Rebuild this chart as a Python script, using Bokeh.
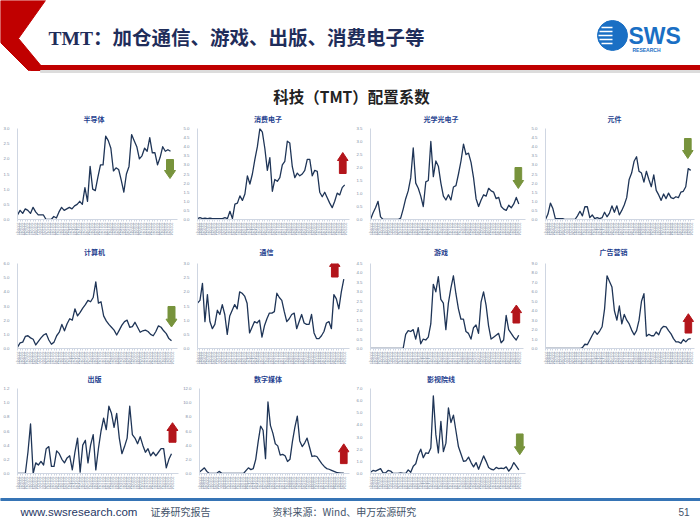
from bokeh.plotting import figure
from bokeh.layouts import column, row
from bokeh.models import Range1d, FixedTicker, Spacer, NumeralTickFormatter
from bokeh.core.properties import value
from bokeh.embed import file_html
from bokeh.resources import INLINE

# ---------------- data ----------------
quarters = [
    "2009Q1", "2009Q2", "2009Q3", "2009Q4", "2010Q1", "2010Q2", "2010Q3", "2010Q4",
    "2011Q1", "2011Q2", "2011Q3", "2011Q4", "2012Q1", "2012Q2", "2012Q3", "2012Q4",
    "2013Q1", "2013Q2", "2013Q3", "2013Q4", "2014Q1", "2014Q2", "2014Q3", "2014Q4",
    "2015Q1", "2015Q2", "2015Q3", "2015Q4", "2016Q1", "2016Q2", "2016Q3", "2016Q4",
    "2017Q1", "2017Q2", "2017Q3", "2017Q4", "2018Q1", "2018Q2", "2018Q3", "2018Q4",
    "2019Q1", "2019Q2", "2019Q3", "2019Q4", "2020Q1", "2020Q2", "2020Q3", "2020Q4",
    "2021Q1", "2021Q2", "2021Q3", "2021Q4", "2022Q1", "2022Q2", "2022Q3", "2022Q4",
    "2023Q1", "2023Q2", "2023Q3", "2023Q4",
]

semis = [0.15, 0.3, 0.2, 0.35, 0.3, 0.2, 0.4, 0.25, 0.15, 0.15,
         0.15, 0.0, 0.0, 0.0, 0.1, 0.05, 0.25, 0.4, 0.3, 0.35,
         0.4, 0.35, 0.45, 0.5, 0.6, 0.5, 1.05, 0.6, 1.75, 1.0,
         0.95, 1.4, 1.8, 1.8, 2.75, 2.6, 2.35, 1.6, 1.7, 1.65,
         1.3, 0.9, 1.5, 1.75, 2.8, 2.6, 2.4, 2.0, 2.1, 2.35,
         2.25, 2.7, 2.2, 2.2, 1.8, 2.05, 2.4, 2.25, 2.3, 2.25]

consumer = [0.05, 0.1, 0.05, 0.08, 0.05, 0.07, 0.05, 0.05, 0.05, 0.05,
            0.05, 0.1, 0.05, 0.45, 0.05, 0.85, 0.9, 1.3, 1.05, 1.4,
            2.4, 1.95, 2.5, 3.3, 4.0, 5.0, 4.8, 3.9, 2.7, 3.4,
            1.55, 2.2, 2.1, 2.3, 3.0, 3.2, 4.3, 4.2, 2.9, 2.3,
            2.55, 2.4, 2.5, 2.7, 3.3, 3.3, 2.4, 2.7, 2.65, 1.5,
            1.25, 1.5, 1.2, 0.9, 0.65, 1.0, 1.45, 1.35, 1.75, 1.9]

optical = [0.0, 0.25, 0.45, 0.7, 0.1, 0.0, 0.0, 0.0, 0.0, 0.0,
           0.0, 0.0, 0.05, 0.4, 0.8, 1.1, 1.6, 2.75, 1.4, 1.2,
           0.9, 0.5, 1.45, 1.5, 3.0, 1.65, 2.25, 2.05, 1.4, 0.9,
           0.75, 0.95, 0.75, 1.25, 1.3, 1.75, 2.25, 2.9, 2.5, 2.55,
           2.2, 1.6, 0.8, 0.5, 0.75, 0.95, 0.9, 1.2, 1.1, 1.05,
           0.8, 0.85, 0.5, 0.4, 0.35, 0.55, 0.45, 0.6, 0.85, 0.6]

components = [0.0, 0.3, 0.9, 0.6, 0.05, 0.05, 0.05, 0.05, 0.0, 0.0,
              0.0, 0.0, 0.0, 0.2, 0.45, 0.2, 0.7, 0.7, 0.1, 0.25,
              0.05, 0.1, 0.05, 0.1, 0.4, 0.15, 0.35, 0.75, 0.4, 0.75,
              0.25, 0.5, 0.8, 1.2, 2.2, 2.55, 3.2, 3.45, 2.65, 2.55,
              2.05, 2.65, 2.2, 1.8, 2.45, 1.6, 1.35, 1.05, 1.4, 1.15,
              1.45, 1.2, 1.15, 1.25, 1.2, 1.5, 1.55, 1.8, 2.8, 2.7]

computer = [0.1, 0.4, 0.45, 0.85, 0.9, 0.75, 0.65, 0.25, 0.5, 0.75,
            0.95, 1.05, 0.6, 0.3, 0.45, 0.9, 1.15, 1.7, 1.25, 1.75,
            2.1, 2.0, 2.8, 2.3, 2.55, 2.85, 3.1, 3.4, 3.3, 3.6,
            4.7, 3.2, 3.3, 2.3, 1.95, 1.7, 1.5, 1.3, 0.95, 1.3,
            1.65, 1.9, 2.0, 1.5, 1.55, 1.85, 1.5, 1.15, 1.25, 1.3,
            1.2, 1.0, 0.9, 1.2, 1.6, 1.5, 1.25, 1.05, 0.7, 0.55]

telecom = [1.6, 1.7, 2.3, 0.95, 1.9, 0.95, 0.7, 0.85, 1.35, 1.2,
           1.55, 1.2, 0.5, 1.15, 1.35, 1.55, 1.4, 2.0, 1.95, 1.85,
           1.6, 0.55, 0.75, 0.95, 0.9, 1.0, 0.4, 0.8, 1.05, 1.25,
           1.25, 1.3, 1.95, 1.8, 1.7, 1.3, 0.95, 1.05, 1.2, 1.25,
           0.7, 0.95, 1.2, 0.9, 0.85, 0.85, 1.2, 0.55, 0.35, 0.35,
           0.45, 0.6, 0.9, 0.95, 0.7, 1.9, 1.75, 1.4, 2.0, 2.45]

games = [0.0, 0.0, 0.0, 0.0, 0.0, 0.0, 0.0, 0.0, 0.0, 0.0,
         0.0, 0.0, 0.0, 0.0, 0.75, 0.95, 0.9, 1.0, 0.5, 1.1,
         0.25, 0.5, 0.45, 0.6, 1.3, 3.4, 3.0, 3.8, 2.6, 2.4,
         1.0, 2.4, 3.2, 3.85, 2.9, 2.1, 1.55, 1.55, 0.9, 0.8,
         0.5, 1.1, 1.25, 0.8, 2.45, 3.0, 2.3, 1.2, 0.5, 0.6,
         0.7, 0.8, 0.3, 0.45, 1.75, 1.0, 0.8, 0.6, 0.45, 0.7]

advertising = [0.0, 0.0, 0.0, 0.0, 0.0, 0.0, 0.0, 0.0, 0.0, 0.0,
               0.0, 0.0, 0.0, 0.0, 0.0, 0.1, 0.45, 0.4, 0.9, 1.4,
               1.85, 1.5, 1.85, 2.3, 4.2, 7.7, 7.1, 6.5, 4.0, 3.0,
               4.5, 2.6, 3.6, 3.0, 2.6, 1.95, 1.45, 1.9, 3.0, 5.0,
               5.8, 1.3, 1.5, 1.35, 1.35, 1.75, 1.45, 2.1, 2.35, 2.3,
               1.9, 1.55, 1.05, 0.7, 0.7, 0.55, 0.95, 0.7, 1.0, 1.05]

publishing = [0.0, 0.0, 0.0, 0.0, 0.3, 0.7, 0.0, 0.15, 0.12, 0.17,
              0.12, 0.35, 0.38, 0.1, 0.1, 0.32, 0.28, 0.2, 0.15, 0.22,
              0.25, 0.05, 0.3, 0.5, 0.02, 0.4, 0.47, 0.15, 0.4, 0.55,
              0.05, 0.35, 0.6, 0.78, 0.62, 0.95, 0.85, 0.65, 0.85, 0.5,
              0.28, 0.38, 0.5, 0.95, 0.55, 0.5, 0.42, 0.52, 0.4, 0.3,
              0.35, 0.25, 0.3, 0.25, 0.3, 0.35, 0.35, 0.08, 0.2, 0.28]

digital_media = [0.2, 0.5, 0.8, 0.3, 0.0, 0.0, 0.0, 0.0, 0.3, 0.05,
                 0.0, 0.0, 0.0, 0.0, 0.0, 0.0, 0.0, 0.0, 0.0, 0.4,
                 0.8, 0.55, 0.7, 2.0, 4.5, 6.7, 6.1, 2.1, 10.1, 6.8,
                 5.7, 4.2, 3.9, 2.6, 2.7, 2.5, 1.7, 2.0, 4.5, 6.5,
                 8.1, 4.6, 3.8, 4.3, 5.0, 3.7, 2.4, 2.5, 2.4, 1.9,
                 1.4, 1.0, 0.7, 0.6, 0.45, 0.3, 0.15, 0.1, 0.05, 0.05]

cinema = [0.1, 0.25, 0.2, 0.3, 0.4, 0.05, 0.05, 0.25, 0.2, 0.0,
          0.0, 0.0, 0.05, 0.0, 0.0, 0.3, 0.1, 0.6, 0.8, 1.55,
          2.0, 1.3, 1.7, 1.65, 2.1, 6.4, 3.2, 1.7, 4.3, 1.8,
          2.5, 5.4, 4.2, 4.8, 3.5, 2.2, 1.6, 1.0, 1.05, 1.35,
          0.9, 0.55, 0.9, 0.35, 0.9, 1.45, 1.0, 0.5, 0.35, 0.3,
          0.5, 0.4, 0.45, 0.4, 0.55, 0.2, 0.45, 0.9, 0.6, 0.3]

panel_titles = ["半导体", "消费电子", "光学光电子", "元件",
                "计算机", "通信", "游戏", "广告营销",
                "出版", "数字媒体", "影视院线"]
panel_series = [semis, consumer, optical, components,
                computer, telecom, games, advertising,
                publishing, digital_media, cinema]
y_max = [3.0, 5.0, 3.5, 5.0, 6.0, 3.0, 4.5, 9.0, 1.2, 12.0, 7.0]
y_step = [0.5, 0.5, 0.5, 0.5, 1.0, 0.5, 0.5, 1.0, 0.2, 2.0, 1.0]
signals = ["down", "up", "down", "down", "down", "up", "up", "up", "up", "up", "down"]

main_title = "TMT：加仓通信、游戏、出版、消费电子等"
sub_title = "科技（TMT）配置系数"
footer_site = "www.swsresearch.com"
footer_kind = "证券研究报告"
footer_source = "资料来源：Wind、申万宏源研究"
page_no = "51"

# ---------------- styles / geometry ----------------
CJK = "Noto Sans CJK SC"
LINE_C = "#1f3557"
AXIS_C = "#cfd6e2"
TICK_C = "#7d8ba3"
TITLE_C = "#1f3f8f"
GREEN = "#77933c"
RED = "#b3151b"

COL_X0 = [0, 180, 353, 528]
COL_W = [180, 173, 175, 172]
# title strip (top, height, title centre) and chart row (top, height), page px
STRIP = [(108, 16, 118), (240, 16, 251), (372, 13, 378.5)]
ROWS = [(124, 116), (256, 116), (385, 107)]
# frame left, last-data x, frame right, frame top, frame bottom (page px)
GEOM = [
    (17, 170, 177, 128, 219), (191, 344, 349, 128, 219), (363, 518, 525, 128, 219), (538, 690, 694, 128, 219),
    (17, 171, 177, 262, 349), (189, 343, 349, 263, 351), (363, 518, 523, 258, 348), (536, 690, 694, 261, 349),
    (17, 171, 178, 387, 474), (192, 343, 349, 388, 474), (363, 518, 525, 387, 473),
]
# arrow: centre x, top y, bottom y (page px)
ARROWS = [(169.5, 159, 178), (342, 152, 173), (517.5, 167, 188), (687, 138, 158),
          (171, 306, 327), (333.5, 258, 277), (515.5, 302, 321), (687.5, 313, 333),
          (172, 422, 442), (343, 444, 464), (519, 433, 454)]


def blank(w, h):
    f = figure(width=w, height=h, x_range=Range1d(0, w), y_range=Range1d(h, 0),
               x_axis_type=None, y_axis_type=None, output_backend="svg",
               toolbar_location=None, min_border=0)
    f.outline_line_color = None
    f.background_fill_color = "white"
    f.border_fill_color = "white"
    return f


def make_panel(k):
    r, c = divmod(k, 4)
    fx0, fw = COL_X0[c], COL_W[c]
    fy0, fh = ROWS[r]
    L, D, R, T, B = GEOM[k]
    vals = panel_series[k]
    n = len(vals)
    ymax = y_max[k]
    ppx = (D - L) / (n - 1)
    ppy = (B - T) / ymax
    p = figure(width=fw, height=fh, output_backend="svg", toolbar_location=None,
               x_range=Range1d(0, (R - L) / ppx), y_range=Range1d(0, ymax),
               min_border_left=L - fx0, min_border_right=fx0 + fw - R,
               min_border_top=T - fy0, min_border_bottom=fy0 + fh - B)
    p.outline_line_color = None
    p.grid.visible = False
    p.background_fill_color = "white"
    p.border_fill_color = "white"

    idx = list(range(n))
    p.line(idx, vals, line_color=LINE_C, line_width=1.3, line_join="round")

    xa = p.xaxis[0]
    xa.ticker = FixedTicker(ticks=idx)
    xa.major_label_overrides = {i: quarters[i] for i in idx}
    xa.major_label_orientation = "vertical"
    xa.axis_line_color = AXIS_C
    xa.major_tick_line_color = AXIS_C
    xa.major_tick_in = 0
    xa.major_tick_out = 2
    xa.minor_tick_line_color = None
    xa.major_label_text_font_size = "3.6px"
    xa.major_label_text_color = TICK_C
    xa.major_label_text_font = "Liberation Sans"
    xa.major_label_standoff = 1

    ya = p.yaxis[0]
    nt = int(round(ymax / y_step[k]))
    ya.ticker = FixedTicker(ticks=[round(j * y_step[k], 4) for j in range(nt + 1)])
    ya.formatter = NumeralTickFormatter(format="0.0")
    ya.axis_line_color = AXIS_C
    ya.major_tick_line_color = None
    ya.minor_tick_line_color = None
    ya.major_label_text_font_size = "4.3px"
    ya.major_label_text_color = TICK_C
    ya.major_label_text_font = "Liberation Sans"
    ya.major_label_standoff = 2

    # signal arrow
    cx, top, bot = ARROWS[k]
    bw, hw, hh = 7, 11, 8
    if signals[k] == "down":
        pts = [(cx - bw / 2, top), (cx + bw / 2, top), (cx + bw / 2, bot - hh), (cx + hw / 2, bot - hh),
               (cx, bot), (cx - hw / 2, bot - hh), (cx - bw / 2, bot - hh)]
        col = GREEN
    else:
        pts = [(cx - bw / 2, bot), (cx + bw / 2, bot), (cx + bw / 2, top + hh), (cx + hw / 2, top + hh),
               (cx, top), (cx - hw / 2, top + hh), (cx - bw / 2, top + hh)]
        col = RED
    p.patch([(x - L) / ppx for x, _ in pts], [(B - y) / ppy for _, y in pts],
            fill_color=col, line_color=col)
    return p


def make_strip(r):
    top, h, yc = STRIP[r]
    s = blank(700, h)
    ks = list(range(4 * r, min(4 * r + 4, len(panel_titles))))
    s.text(x=[(GEOM[k][0] + GEOM[k][1]) / 2 for k in ks], y=[yc - top] * len(ks),
           text=[panel_titles[k] for k in ks], text_font=value(CJK), text_font_size="7px",
           text_font_style="bold", text_color=TITLE_C, text_align="center", text_baseline="middle")
    return s


# header
hdr = blank(700, 108)
hdr.patch([0, 45, 18, 42, 28, 0], [0, 0, 38, 67, 70, 42], color="#c00000")
hdr.quad(left=30, right=700, top=65, bottom=70, color="#c00000")
hdr.quad(left=40, right=700, top=70, bottom=72, color="#dcdcdc")
hdr.text(x=[48], y=[38], text=[main_title], text_font=value("'Liberation Serif', 'Noto Sans CJK SC'"),
         text_font_size="19.5px", text_font_style="bold", text_color="#1f2d5a",
         text_baseline="middle", text_align="left")
hdr.scatter(x=[612], y=[35], size=30, marker="circle", color="#1a6fc4")
hdr.segment(x0=[601, 599, 598, 599, 601], y0=[27, 31, 35, 39, 43],
            x1=[612, 612, 612, 612, 612], y1=[27, 31, 35, 39, 43], line_color="white", line_width=1.5)
hdr.text(x=[628], y=[35], text=["SWS"], text_font=value("Liberation Sans"), text_font_size="23px",
         text_font_style="bold", text_color="#1a6fc4", text_baseline="middle")
hdr.text(x=[632], y=[49], text=["RESEARCH"], text_font=value("Liberation Sans"), text_font_size="5px",
         text_font_style="bold", text_color="#1a6fc4", text_baseline="middle")
hdr.text(x=[351], y=[95], text=[sub_title], text_font=value(CJK), text_font_size="15.5px",
         text_font_style="bold", text_color="#222222", text_baseline="middle", text_align="center")

panels = [make_panel(k) for k in range(len(panel_titles))]

ftr = blank(700, 33)
ftr.quad(left=0, right=700, top=6, bottom=8, color="#3674b5")
ftr.text(x=[20], y=[19], text=[footer_site], text_font=value("Liberation Sans"), text_font_size="11.5px",
         text_color="#1f3864", text_baseline="middle")
ftr.text(x=[150], y=[19], text=[footer_kind], text_font=value(CJK), text_font_size="10px",
         text_color="#44546a", text_baseline="middle")
ftr.text(x=[272], y=[19], text=[footer_source], text_font=value(CJK), text_font_size="10px",
         text_color="#44546a", text_baseline="middle")
ftr.text(x=[678], y=[19], text=[page_no], text_font=value("Liberation Sans"), text_font_size="10px",
         text_color="#44546a", text_baseline="middle")

layout = column(
    hdr,
    make_strip(0),
    row(*panels[0:4]),
    make_strip(1),
    row(*panels[4:8]),
    make_strip(2),
    row(*panels[8:11], Spacer(width=COL_W[3], height=ROWS[2][1])),
    ftr,
)

open("out.html", "w").write(file_html(layout, INLINE))
